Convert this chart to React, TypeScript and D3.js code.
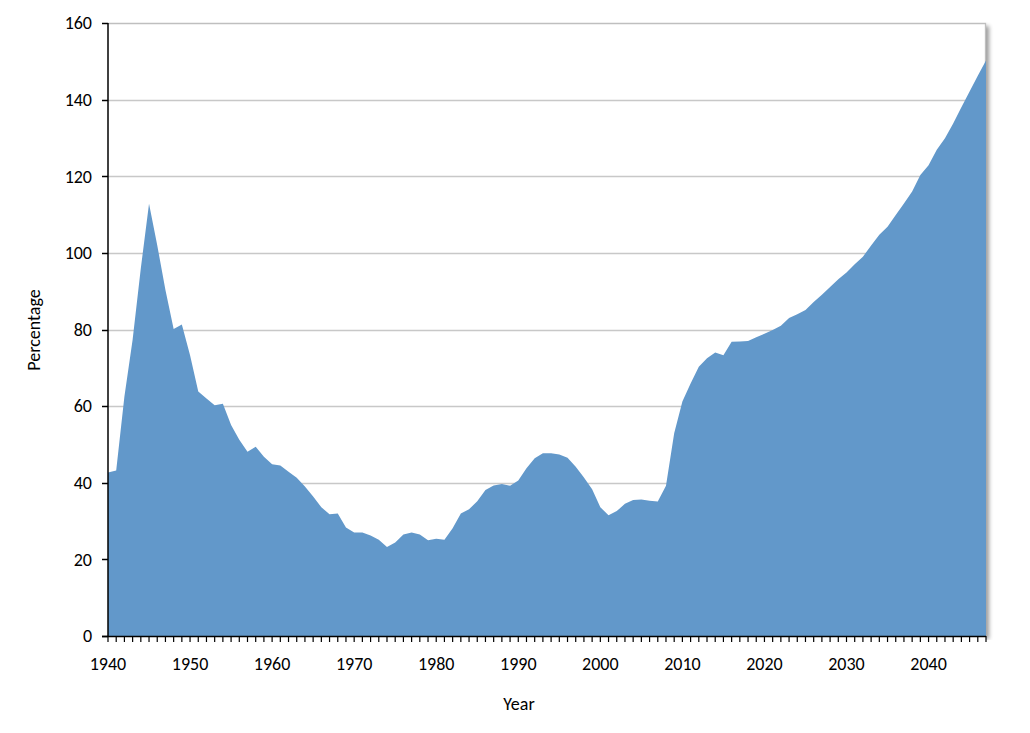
import React from "react";
import * as d3 from "d3";

const years: number[] = d3.range(1940, 2048);
const values: number[] = [
  42.7, 43.2, 62.5, 77.3, 96.0, 112.8, 102.0, 90.3, 80.1, 81.3,
  73.3, 63.8, 62.0, 60.2, 60.6, 55.1, 51.2, 48.1, 49.4, 46.8,
  44.8, 44.5, 42.9, 41.3, 39.0, 36.4, 33.6, 31.8, 32.0, 28.3,
  27.0, 27.0, 26.2, 25.1, 23.2, 24.4, 26.5, 27.0, 26.5, 25.0,
  25.4, 25.1, 28.1, 32.0, 33.1, 35.2, 38.1, 39.3, 39.7, 39.2,
  40.6, 43.8, 46.4, 47.7, 47.7, 47.4, 46.5, 44.2, 41.4, 38.3,
  33.6, 31.5, 32.6, 34.5, 35.5, 35.6, 35.3, 35.1, 39.2, 52.9,
  61.2, 65.9, 70.3, 72.5, 74.0, 73.3, 76.8, 76.9, 77.0, 78.0,
  78.9, 79.9, 81.0, 83.0, 84.0, 85.1, 87.2, 89.1, 91.1, 93.1,
  94.9, 97.0, 99.0, 101.9, 104.7, 106.8, 109.9, 112.9, 116.0, 120.3,
  122.9, 126.9, 129.9, 133.8, 138.0, 142.1, 146.2, 150.2,
];
const yTicks: number[] = [0, 20, 40, 60, 80, 100, 120, 140, 160];
const xLabels: number[] = [1940, 1950, 1960, 1970, 1980, 1990, 2000, 2010, 2020, 2030, 2040];

const W = 1030;
const H = 733;
const left = 108;
const right = 986;
const top = 23;
const bottom = 636;

export default function App() {
  const x = d3.scaleLinear().domain([1940, 2047]).range([left, right]);
  const y = d3.scaleLinear().domain([0, 160]).range([bottom, top]);
  const data = years.map((yr, i) => ({ yr, v: values[i] }));
  const area = d3
    .area<{ yr: number; v: number }>()
    .x((d) => x(d.yr))
    .y0(y(0))
    .y1((d) => y(d.v));
  const font = "Carlito, Lato, 'Liberation Sans', sans-serif";
  const fs = 18;
  return (
    <svg
      width={W}
      height={H}
      style={{ position: "absolute", left: 0, top: 0, background: "#fff" }}
    >
      <defs>
        <filter id="sh" x="-5%" y="-5%" width="115%" height="115%">
          <feGaussianBlur in="SourceAlpha" stdDeviation="2.2" />
          <feOffset dx="3" dy="3" />
          <feComponentTransfer>
            <feFuncA type="linear" slope="0.4" />
          </feComponentTransfer>
        </filter>
        <clipPath id="shclip">
          <rect x={right} y={0} width={30} height={bottom + 4} />
        </clipPath>
      </defs>
      <g clipPath="url(#shclip)">
        <rect
          x={left}
          y={top}
          width={right - left}
          height={bottom - top}
          fill="#000"
          filter="url(#sh)"
        />
      </g>
      {yTicks
        .filter((t) => t > 0 && t < 160)
        .map((t) => (
          <line
            key={t}
            x1={left}
            x2={right}
            y1={Math.round(y(t)) + 0.5}
            y2={Math.round(y(t)) + 0.5}
            stroke="#C8C8C8"
            strokeWidth={1.3}
          />
        ))}
      <path
        d={`M${left},${top + 0.5}H${right - 0.5}V${bottom}`}
        fill="none"
        stroke="#BFBFBF"
        strokeWidth={1.3}
      />
      <path d={area(data) || ""} fill="#6298CA" />
      <line x1={left} x2={left} y1={top} y2={bottom} stroke="#000" strokeWidth={1.5} />
      {yTicks.map((t) => (
        <g key={t}>
          <line
            x1={left - 6}
            x2={left}
            y1={Math.round(y(t)) + 0.5}
            y2={Math.round(y(t)) + 0.5}
            stroke="#000"
            strokeWidth={1.5}
          />
          <text
            x={92}
            y={y(t)}
            dy="0.35em"
            textAnchor="end"
            fontFamily={font}
            fontSize={fs}
            fill="#000"
          >
            {t}
          </text>
        </g>
      ))}
      <line x1={left - 6} x2={right} y1={bottom + 0.5} y2={bottom + 0.5} stroke="#000" strokeWidth={1.5} />
      {years.map((yr) => (
        <line
          key={yr}
          x1={x(yr)}
          x2={x(yr)}
          y1={bottom}
          y2={bottom + 6}
          stroke="#000"
          strokeWidth={1.2}
        />
      ))}
      {xLabels.map((yr) => (
        <text
          key={yr}
          x={x(yr)}
          y={670}
          textAnchor="middle"
          fontFamily={font}
          fontSize={fs}
          fill="#000"
        >
          {yr}
        </text>
      ))}
      <text x={519} y={710} textAnchor="middle" fontFamily={font} fontSize={fs} fill="#000">
        Year
      </text>
      <text
        transform={`translate(40,330) rotate(-90)`}
        textAnchor="middle"
        fontFamily={font}
        fontSize={fs}
        fill="#000"
      >
        Percentage
      </text>
    </svg>
  );
}
